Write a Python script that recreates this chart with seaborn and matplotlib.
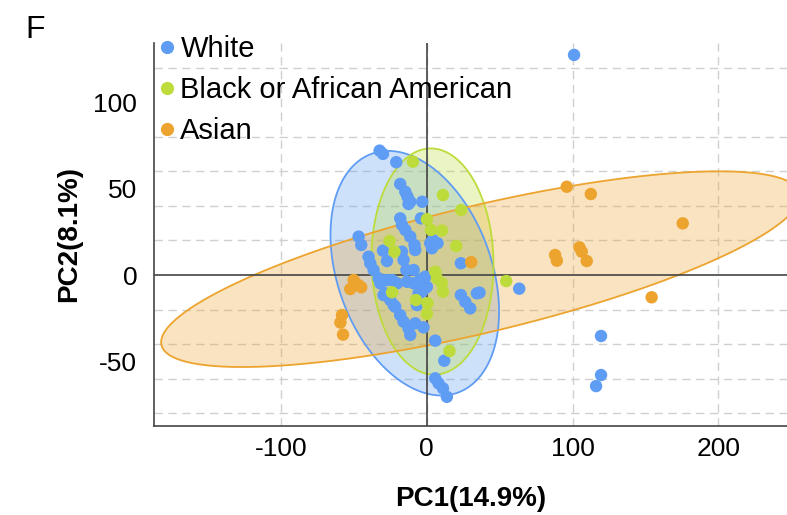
import numpy as np
import pandas as pd
import matplotlib
matplotlib.use("Agg")
import matplotlib.pyplot as plt
import seaborn as sns
from matplotlib.patches import Polygon

# ---------------- data ----------------
groups = ["White", "Black or African American", "Asian"]
colors = ["#5F9CF4", "#BDDC3B", "#ECA42F"]

white_pc1 = [-32.3, -30.0, -20.9, -18.2, -14.7, -13.2, -11.3, -12.5, -3.1, -4.0,
             -18.2, -17.0, -14.7, -11.3, -8.4, -7.9, 4.2, 7.4, 3.6, -46.7,
             -44.9, -39.9, -38.7, -30.0, -27.3, -17.0, -15.9, -14.0, -9.0, -36.4,
             -33.0, -31.8, -27.3, -20.4, -13.6, -9.0, -4.5, -1.0, 0.1, -3.3,
             -28.4, -25.0, -21.6, -18.2, -15.9, -12.5, -11.3, -7.9, -2.2, -6.7,
             5.8, 12.0, 5.8, 8.1, 11.1, 13.8, 23.4, 23.4, 26.4, 29.8,
             34.4, 36.2, 63.4, 101.0, 119.5, 119.5, 116.1, -29.6, -22.7, -5.6,
             -23.8, -2.2, -1.0, 2.4]
white_pc2 = [72.0, 70.1, 65.3, 52.7, 48.2, 45.3, 42.4, 41.1, 42.4, 32.8,
             32.8, 29.0, 26.1, 22.2, 17.4, 14.5, 20.3, 18.4, 15.5, 22.2,
             17.4, 10.6, 6.8, 14.1, 8.1, 13.5, 8.7, 2.9, 2.9, 2.9,
             -1.9, -4.8, -2.9, -4.8, -3.9, -4.8, -2.9, -1.0, -6.8, -9.7,
             -10.6, -14.5, -18.4, -23.2, -27.0, -30.9, -34.7, -28.0, -30.3, -17.4,
             -38.0, -49.6, -59.8, -62.7, -65.6, -70.5, 6.8, -11.6, -15.5, -19.3,
             -10.6, -10.2, -7.9, 127.4, -35.3, -57.9, -64.3, -11.6, -17.4, -10.6,
             -2.9, -1.7, -7.5, 18.4]

black_pc1 = [-9.5, 11.1, 23.6, 0.1, 2.9, 10.4, -25.5, -22.1, 20.2, 5.8,
             7.0, 10.4, 11.1, -23.8, -7.4, 0.5, 0.1, 54.5, 15.6]
black_pc2 = [65.6, 46.3, 37.6, 32.3, 26.1, 25.7, 19.7, 13.5, 16.8, 1.9,
             -1.9, -4.8, -9.7, -10.0, -14.5, -16.4, -22.6, -3.5, -44.0]

asian_pc1 = [30.5, -50.1, -46.9, -52.4, -44.9, -58.1, -59.2, -57.4, 96.0, 112.5,
             175.5, 88.0, 89.2, 104.7, 106.3, 109.7, 154.2]
asian_pc2 = [7.4, -2.9, -5.8, -8.1, -7.1, -23.2, -27.5, -34.5, 51.1, 46.9,
             29.9, 11.6, 8.3, 16.0, 13.5, 8.1, -12.9]

x_ticks = [-100, 0, 100, 200]
y_ticks = [-50, 0, 50, 100]

# ---------------- build table ----------------
df = pd.concat([
    pd.DataFrame({"PC1": white_pc1, "PC2": white_pc2, "Race": groups[0]}),
    pd.DataFrame({"PC1": black_pc1, "PC2": black_pc2, "Race": groups[1]}),
    pd.DataFrame({"PC1": asian_pc1, "PC2": asian_pc2, "Race": groups[2]}),
], ignore_index=True)

sns.set_theme(style="white")
plt.rcParams["font.family"] = ["Liberation Sans", "DejaVu Sans"]
plt.rcParams["axes.unicode_minus"] = False
plt.rcParams["text.color"] = "black"

fig = plt.figure(figsize=(7.87, 5.15), dpi=100)
ax = fig.add_axes([154 / 787, 1 - 426 / 515, 1 - 154 / 787, (426 - 43) / 515])


def cov_trob(X, nu=8, maxit=25, tol=0.01):
    """Robust multivariate-t location/scatter (as MASS::cov.trob)."""
    n, p = X.shape
    loc = X.mean(axis=0)
    w = np.ones(n)
    for _ in range(maxit):
        w0 = w
        Xc = X - loc
        A = np.sqrt(w / w.sum())[:, None] * Xc
        _, d, vt = np.linalg.svd(A, full_matrices=False)
        wX = Xc @ vt.T @ np.diag(1 / d)
        Q = (wX ** 2).sum(axis=1)
        w = (nu + p) / (nu + Q)
        loc = (w[:, None] * X).sum(axis=0) / w.sum()
        if np.all(np.abs(w - w0) < tol):
            break
    cov = (np.sqrt(w)[:, None] * Xc).T @ (np.sqrt(w)[:, None] * Xc) / n
    return loc, cov


def t_ellipse(x, y, level=0.95, segments=200):
    X = np.column_stack([x, y]).astype(float)
    n = len(X)
    loc, cov = cov_trob(X)
    d2 = n - 1
    fq = (d2 / 2.0) * ((1 - level) ** (-2.0 / d2) - 1)   # qf(level, 2, n-1)
    radius = np.sqrt(2 * fq)
    t = np.linspace(0, 2 * np.pi, segments)
    circle = np.column_stack([np.cos(t), np.sin(t)])
    chol = np.linalg.cholesky(cov).T
    return loc + radius * circle @ chol


ells = []
for g, c in zip(groups, colors):
    sub = df[df.Race == g]
    pts = t_ellipse(sub.PC1.values, sub.PC2.values)
    ax.add_patch(Polygon(pts, closed=True, facecolor=c, alpha=0.3,
                         edgecolor="none", zorder=1))
    ells.append((pts, c))
for pts, c in ells:
    ax.add_patch(Polygon(pts, closed=True, facecolor="none",
                         edgecolor=c, lw=1.3, zorder=1.5))

ax.axhline(0, color="#444444", lw=1.2, zorder=2)
ax.axvline(0, color="#444444", lw=1.2, zorder=2)

sns.scatterplot(data=df, x="PC1", y="PC2", hue="Race", hue_order=groups,
                palette=colors, s=80, linewidth=0, alpha=1, ax=ax, zorder=3,
                legend=False)

ax.set_xlim(-187, 247)
ax.set_ylim(-87.4, 134.3)
ax.set_xticks(x_ticks)
ax.set_yticks(y_ticks)
ax.set_yticks(np.arange(-80, 121, 20), minor=True)
ax.grid(False)
ax.grid(which="major", axis="x", color="#d0d0d0", ls=(0, (6, 4)), lw=1.0)
ax.grid(which="minor", axis="y", color="#d0d0d0", ls=(0, (6, 4)), lw=1.0)
ax.set_axisbelow(True)
ax.tick_params(which="both", length=0, labelsize=19, colors="black")
ax.tick_params(axis="y", pad=12)
ax.tick_params(axis="x", pad=8)
for s in ["top", "right"]:
    ax.spines[s].set_visible(False)
for s in ["left", "bottom"]:
    ax.spines[s].set_color("#444444")
    ax.spines[s].set_linewidth(1.2)

ax.set_xlabel("PC1(14.9%)", fontsize=20, fontweight="bold", labelpad=18,
              color="black")
ax.set_ylabel("PC2(8.1%)", fontsize=20, fontweight="bold", labelpad=8,
              color="black")

handles = [plt.Line2D([], [], marker="o", ls="none", color=c, markersize=8.5)
           for c in colors]
fig.legend(handles, groups, loc="upper left", bbox_to_anchor=(160 / 787, 1 - 35 / 515),
           bbox_transform=fig.transFigure, frameon=False, fontsize=21,
           handlelength=0.5, handletextpad=0.2, labelspacing=0.45,
           borderpad=0, borderaxespad=0, labelcolor="black")

fig.text(35 / 787, 1 - 30 / 515, "F", fontsize=23, ha="center", va="center",
         color="black")

fig.savefig("out.png", dpi=100)
